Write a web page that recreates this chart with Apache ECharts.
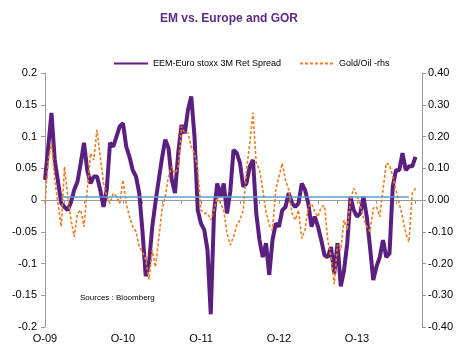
<!DOCTYPE html>
<html lang="en">
<head>
    <title>EM vs. Europe and GOR</title>
    <meta charset="utf-8">
    <script src="https://cdn.jsdelivr.net/npm/echarts@6/dist/echarts.min.js"></script>
    <style>
        html, body { margin: 0; padding: 0; background: #fff; }
        #chart { width: 458px; height: 350px; }
    </style>
</head>
<body>
<div id="chart"></div>
<script type="text/javascript">
    // half-month steps from Oct 2009 to mid Jul 2014
    var dates = [];
    for (var m = 0; m < 59; m++) {
        var y = 2009 + Math.floor((9 + m) / 12);
        var mo = ((9 + m) % 12) + 1;
        var mm = (mo < 10 ? '0' : '') + mo;
        dates.push(y + '-' + mm + '-01');
        dates.push(y + '-' + mm + '-16');
    }
    dates = dates.slice(0, 117);

    // EEM - Euro stoxx 3M return spread (left axis)
    var spread = [
        0.032, 0.084, 0.137, 0.063, 0.029, -0.005, -0.011, -0.016, -0.003, 0.016,
        0.029, 0.058, 0.090, 0.047, 0.026, 0.037, 0.037, 0.016, -0.011, 0.016,
        0.090, 0.084, 0.100, 0.116, 0.121, 0.084, 0.068, 0.047, 0.037, 0.011,
        -0.050, -0.120, -0.100, -0.042, -0.003, 0.032, 0.066, 0.095, 0.082, 0.032,
        0.011, 0.074, 0.118, 0.105, 0.142, 0.163, 0.100, -0.016, -0.037, -0.047,
        -0.079, -0.180, -0.021, 0.026, 0.005, 0.026, -0.021, 0.013, 0.079, 0.074,
        0.058, 0.021, 0.026, 0.053, 0.063, -0.021, -0.063, -0.090, -0.068, -0.118,
        -0.063, -0.037, -0.042, -0.016, -0.011, 0.011, -0.005, -0.011, -0.005, 0.026,
        0.016, -0.005, -0.042, -0.026, -0.042, -0.063, -0.087, -0.090, -0.074, -0.116,
        -0.068, -0.136, -0.111, -0.068, 0.005, -0.016, -0.026, -0.021, 0.005, -0.026,
        -0.074, -0.126, -0.105, -0.090, -0.063, -0.090, -0.084, 0.021, 0.047, 0.047,
        0.074, 0.047, 0.053, 0.053, 0.068
    ];

    // Gold / Oil ratio deviation (right axis)
    var goldOil = [
        -0.011, 0.126, 0.179, 0.063, -0.011, -0.084, 0.105, 0.011, -0.063, -0.116,
        -0.042, -0.032, -0.084, 0.032, 0.147, 0.126, 0.221, 0.137, 0.053, 0.011,
        -0.011, 0.021, 0.011, -0.011, 0.063, -0.011, -0.053, -0.084, -0.100, -0.147,
        -0.163, -0.189, -0.250, -0.158, -0.211, -0.121, -0.032, 0.011, 0.074, 0.105,
        0.084, 0.105, 0.232, 0.211, 0.211, 0.168, 0.147, 0.095, -0.032, -0.042,
        -0.042, -0.063, -0.032, 0.011, -0.011, -0.032, -0.105, -0.142, -0.116, -0.079,
        -0.063, -0.032, 0.095, 0.179, 0.275, 0.116, 0.095, 0.032, -0.037, -0.079,
        -0.095, 0.032, 0.074, 0.116, 0.063, 0.032, -0.042, -0.063, -0.032, -0.121,
        -0.095, -0.021, -0.011, -0.037, -0.053, -0.021, -0.018, -0.126, -0.179, -0.265,
        -0.142, -0.158, -0.063, -0.095, 0.000, 0.037, 0.016, -0.016, -0.058, -0.084,
        -0.100, -0.026, -0.021, -0.053, 0.032, 0.116, 0.111, 0.074, 0.032, -0.011,
        -0.053, -0.105, -0.132, 0.021, 0.037
    ];

    // thin reference line just above zero
    var zeroRef = 0.005;
    var zeroFrom = 5, zeroTo = 112;

    var chart = echarts.init(document.getElementById('chart'));
    var txt = '#000';
    var axisGrey = '#999999';

    chart.setOption({
        animation: false,
        backgroundColor: '#ffffff',
        textStyle: { fontFamily: 'Liberation Sans, Arial, sans-serif' },
        title: {
            text: 'EM vs. Europe and GOR',
            left: 'center',
            top: 8,
            textStyle: { fontSize: 12, fontWeight: 'bold', color: '#5B2C83' }
        },
        legend: {
            left: 108,
            top: 54,
            itemWidth: 34,
            itemHeight: 8,
            itemGap: 18,
            itemStyle: { opacity: 0 },
            textStyle: { fontSize: 9, color: txt },
            data: ['EEM-Euro stoxx 3M Ret Spread', 'Gold/Oil -rhs']
        },
        grid: { left: 45, right: 36, top: 73, bottom: 23 },
        xAxis: {
            type: 'category',
            data: dates,
            boundaryGap: false,
            axisLine: { lineStyle: { color: axisGrey } },
            axisTick: {
                length: 4,
                lineStyle: { color: axisGrey },
                interval: function (idx, val) {
                    var mo = +val.slice(5, 7);
                    return val.slice(8) === '01' && (mo % 3 === 1);
                }
            },
            axisLabel: {
                fontSize: 11,
                color: txt,
                margin: 6,
                interval: function (idx, val) {
                    return val.slice(5) === '10-01';
                },
                formatter: function (val) {
                    return 'O-' + val.slice(2, 4);
                }
            },
            splitLine: { show: false }
        },
        yAxis: [
            {
                type: 'value',
                min: -0.2,
                max: 0.2,
                interval: 0.05,
                axisLine: { show: true, lineStyle: { color: axisGrey } },
                axisTick: { show: true, length: 4, lineStyle: { color: axisGrey } },
                axisLabel: { fontSize: 11, color: txt, margin: 8 },
                splitLine: { show: false }
            },
            {
                type: 'value',
                min: -0.4,
                max: 0.4,
                interval: 0.1,
                axisLine: { show: true, lineStyle: { color: axisGrey } },
                axisTick: { show: true, length: 4, lineStyle: { color: axisGrey } },
                axisLabel: {
                    fontSize: 11, color: txt, margin: 6,
                    formatter: function (v) { return v.toFixed(2); }
                },
                splitLine: { show: false }
            }
        ],
        graphic: [
            {
                type: 'text',
                left: 80,
                top: 294,
                style: { text: 'Sources : Bloomberg', fontSize: 8, fill: '#000',
                    fontFamily: 'Liberation Sans, Arial, sans-serif' }
            }
        ],
        series: [
            {
                name: 'EEM-Euro stoxx 3M Ret Spread',
                type: 'line',
                yAxisIndex: 0,
                data: spread,
                symbol: 'none',
                z: 2,
                lineStyle: { color: '#5B1F80', width: 4 },
                itemStyle: { color: '#5B1F80' },
                markLine: {
                    silent: true,
                    symbol: 'none',
                    label: { show: false },
                    lineStyle: { color: '#5B9BD5', width: 1.5, type: 'solid', opacity: 1 },
                    data: [[{ coord: [zeroFrom, zeroRef] }, { coord: [zeroTo, zeroRef] }]]
                }
            },
            {
                name: 'Gold/Oil -rhs',
                type: 'line',
                yAxisIndex: 1,
                data: goldOil,
                symbol: 'none',
                z: 3,
                lineStyle: { color: '#EE7D22', width: 1.6, type: [3, 2] },
                itemStyle: { color: '#EE7D22' }
            }
        ]
    });
</script>
</body>
</html>
